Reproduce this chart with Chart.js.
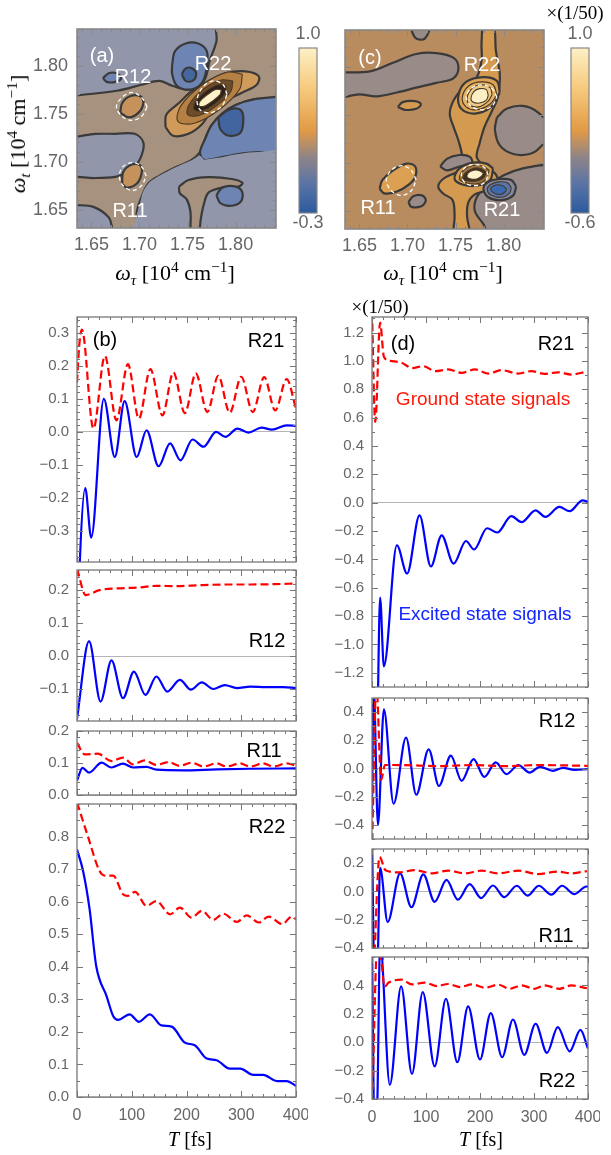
<!DOCTYPE html>
<html>
<head>
<meta charset="utf-8">
<script src="https://cdn.jsdelivr.net/npm/chart.js"></script>
<style>
  html, body { margin: 0; padding: 0; background: #fff; }
  #page { position: relative; width: 611px; height: 1155px; overflow: hidden; font-family: "Liberation Sans", Arial, sans-serif; }
  .box { position: absolute; z-index: 1; }
  .t { position: absolute; z-index: 2; transform: translate(-50%, -50%); white-space: nowrap; line-height: 1; }
  .w { color: #fff; font-size: 20px; }
  .k { color: #000; font-size: 20px; }
  .g { color: #666; font-size: 18px; }
  .s { font-family: "Liberation Serif", "DejaVu Serif", serif; color: #000; font-size: 19px; }
  .s sub, .s sup { font-size: 70%; line-height: 0; }
  .om { font-size: 22px; }
</style>
</head>
<body>
<div id="page">
  <div class="t w" style="left:102px;top:55px">(a)</div>
  <div class="t w" style="left:133px;top:76px">R12</div>
  <div class="t w" style="left:213px;top:63px">R22</div>
  <div class="t w" style="left:130px;top:210px">R11</div>
  <div class="t w" style="left:370px;top:57px">(c)</div>
  <div class="t w" style="left:482px;top:64px">R22</div>
  <div class="t w" style="left:378px;top:207px">R11</div>
  <div class="t w" style="left:502px;top:209px">R21</div>

  <div class="t g" style="left:308px;top:33px">1.0</div>
  <div class="t g" style="left:308px;top:222px">-0.3</div>
  <div class="t g" style="left:580px;top:33px">1.0</div>
  <div class="t g" style="left:580px;top:222px">-0.6</div>
  <div class="t s" style="left:575px;top:12px">×(1/50)</div>

  <div class="t s om" style="left:175px;top:273px"><i>ω</i><sub><i>τ</i></sub> [10<sup>4</sup> cm<sup>−1</sup>]</div>
  <div class="t s om" style="left:443px;top:273px"><i>ω</i><sub><i>τ</i></sub> [10<sup>4</sup> cm<sup>−1</sup>]</div>
  <div class="t s om" style="left:18px;top:134px;transform:translate(-50%,-50%) rotate(-90deg)"><i>ω</i><sub><i>t</i></sub> [10<sup>4</sup> cm<sup>−1</sup>]</div>

  <div class="t s" style="left:380px;top:306px">×(1/50)</div>
  <div class="t k" style="left:105px;top:339px">(b)</div>
  <div class="t k" style="left:266px;top:340px">R21</div>
  <div class="t k" style="left:267px;top:640px">R12</div>
  <div class="t k" style="left:264px;top:750px">R11</div>
  <div class="t k" style="left:267px;top:826px">R22</div>
  <div class="t k" style="left:403px;top:343px">(d)</div>
  <div class="t k" style="left:556px;top:343px">R21</div>
  <div class="t" style="left:483px;top:398px;color:#ff1a0a;font-size:19px">Ground state signals</div>
  <div class="t" style="left:485px;top:613px;color:#1226ff;font-size:19px">Excited state signals</div>
  <div class="t k" style="left:557px;top:720px">R12</div>
  <div class="t k" style="left:556px;top:935px">R11</div>
  <div class="t k" style="left:557px;top:1080px">R22</div>

  <div class="t s" style="left:190px;top:1139px;font-size:20px"><i>T</i> [fs]</div>
  <div class="t s" style="left:481px;top:1139px;font-size:20px"><i>T</i> [fs]</div>
</div>
<script>
// --- 2D maps: axis ranges / ticks ---
const mapXRange = [1.635, 1.842];
const mapYRange = [1.631, 1.838];
const mapTicks = [1.65, 1.70, 1.75, 1.80];

// --- map (a) regions, [omega_tau, omega_t] ---
const aTan = [[1.625,1.768],[1.678,1.774],[1.702,1.780],[1.721,1.784],[1.734,1.779],[1.751,1.775],[1.767,1.784],[1.773,1.805],[1.780,1.825],[1.782,1.845],[1.850,1.845],[1.850,1.768],[1.820,1.765],[1.800,1.759],[1.786,1.750],[1.775,1.738],[1.768,1.723],[1.763,1.710],[1.753,1.701],[1.737,1.694],[1.720,1.685],[1.709,1.677],[1.702,1.663],[1.697,1.646],[1.699,1.625],[1.675,1.625],[1.668,1.642],[1.652,1.653],[1.625,1.658],[1.625,1.682],[1.654,1.683],[1.678,1.685],[1.694,1.694],[1.702,1.706],[1.704,1.720],[1.695,1.729],[1.675,1.729],[1.654,1.729],[1.625,1.728],[1.625,1.768]];
const aBlueTop = [[1.734,1.801],[1.737,1.815],[1.748,1.823],[1.761,1.823],[1.770,1.815],[1.770,1.798],[1.765,1.782],[1.753,1.775],[1.739,1.779],[1.734,1.791],[1.734,1.801]];
const aBlueTopCore = [[1.744,1.791],[1.748,1.797],[1.755,1.797],[1.759,1.791],[1.755,1.784],[1.748,1.784],[1.744,1.791]];
const aBlueLeft = [[1.662,1.787],[1.668,1.792],[1.676,1.792],[1.681,1.787],[1.675,1.783],[1.666,1.783],[1.662,1.787]];
const aBlueRight = [[1.850,1.768],[1.820,1.765],[1.800,1.759],[1.786,1.750],[1.775,1.738],[1.768,1.723],[1.763,1.710],[1.767,1.702],[1.782,1.704],[1.803,1.708],[1.824,1.710],[1.850,1.708],[1.850,1.768]];
const aBlueRightCore = [[1.782,1.746],[1.793,1.754],[1.805,1.754],[1.808,1.744],[1.805,1.730],[1.793,1.727],[1.784,1.734],[1.782,1.746]];
const aGrayLow = [[1.767,1.702],[1.782,1.704],[1.803,1.708],[1.824,1.710],[1.850,1.708],[1.850,1.620],[1.699,1.620],[1.702,1.663],[1.709,1.677],[1.720,1.685],[1.737,1.694],[1.753,1.701],[1.763,1.706],[1.767,1.702]];
const aTanLow = [[1.741,1.674],[1.751,1.681],[1.772,1.684],[1.796,1.682],[1.807,1.678],[1.803,1.674],[1.786,1.673],[1.772,1.668],[1.767,1.656],[1.764,1.642],[1.761,1.625],[1.754,1.625],[1.753,1.648],[1.749,1.661],[1.742,1.667],[1.741,1.674]];
const aBlueLow = [[1.780,1.665],[1.786,1.673],[1.800,1.674],[1.807,1.668],[1.805,1.658],[1.794,1.654],[1.784,1.657],[1.780,1.665]];
const aR12 = [[1.680,1.751],[1.682,1.761],[1.690,1.768],[1.701,1.768],[1.704,1.761],[1.699,1.751],[1.689,1.746],[1.680,1.751]];
const aR11 = [[1.682,1.677],[1.683,1.689],[1.692,1.697],[1.701,1.696],[1.702,1.687],[1.697,1.677],[1.687,1.673],[1.682,1.677]];
const aR22a = [[1.727,1.736],[1.728,1.749],[1.741,1.761],[1.754,1.773],[1.772,1.784],[1.789,1.792],[1.810,1.794],[1.824,1.789],[1.822,1.780],[1.807,1.772],[1.789,1.763],[1.775,1.753],[1.765,1.739],[1.751,1.729],[1.735,1.727],[1.727,1.736]];
const aR22b = [[1.807,1.791],[1.804,1.775],[1.783,1.754],[1.757,1.740],[1.740,1.742],[1.743,1.758],[1.764,1.779],[1.791,1.793],[1.807,1.791]];
const aR22c = [[1.797,1.784],[1.795,1.773],[1.780,1.758],[1.762,1.748],[1.750,1.749],[1.752,1.760],[1.767,1.776],[1.785,1.785],[1.797,1.784]];
const aR22d = [[1.790,1.779],[1.789,1.771],[1.778,1.760],[1.765,1.753],[1.757,1.754],[1.758,1.762],[1.769,1.773],[1.782,1.780],[1.790,1.779]];
const aR22e = [[1.785,1.775],[1.784,1.770],[1.776,1.763],[1.768,1.758],[1.762,1.758],[1.763,1.763],[1.771,1.770],[1.779,1.775],[1.785,1.775]];
const aRing12 = [[1.708,1.757],[1.702,1.767],[1.692,1.772],[1.682,1.767],[1.676,1.757],[1.682,1.747],[1.692,1.743],[1.702,1.747],[1.708,1.757]];
const aRing11 = [[1.707,1.685],[1.702,1.695],[1.693,1.699],[1.683,1.695],[1.679,1.685],[1.683,1.675],[1.693,1.670],[1.702,1.675],[1.707,1.685]];
const aRing22 = [[1.791,1.770],[1.787,1.780],[1.777,1.784],[1.767,1.779],[1.760,1.765],[1.763,1.754],[1.774,1.751],[1.786,1.758],[1.791,1.770]];

// --- map (c) regions ---
const cGrayBand = [[1.625,1.794],[1.661,1.795],[1.685,1.804],[1.709,1.813],[1.730,1.814],[1.748,1.809],[1.753,1.799],[1.748,1.788],[1.730,1.783],[1.709,1.778],[1.689,1.773],[1.668,1.769],[1.650,1.771],[1.625,1.769],[1.625,1.794]];
const cGrayTop = [[1.702,1.845],[1.708,1.830],[1.718,1.829],[1.723,1.845],[1.702,1.845]];
const cGrayRight = [[1.793,1.747],[1.803,1.756],[1.820,1.759],[1.836,1.752],[1.850,1.734],[1.838,1.716],[1.827,1.709],[1.810,1.709],[1.796,1.718],[1.791,1.734],[1.793,1.747]];
const cGraySmall = [[1.701,1.659],[1.706,1.665],[1.715,1.666],[1.719,1.661],[1.715,1.655],[1.704,1.654],[1.701,1.659]];
const cGrayLow = [[1.850,1.699],[1.820,1.694],[1.800,1.687],[1.782,1.675],[1.772,1.664],[1.770,1.650],[1.779,1.636],[1.786,1.625],[1.850,1.625],[1.850,1.699]];
const cBand = [[1.778,1.845],[1.789,1.845],[1.792,1.816],[1.796,1.792],[1.794,1.768],[1.787,1.752],[1.780,1.737],[1.775,1.720],[1.772,1.706],[1.779,1.697],[1.791,1.689],[1.794,1.678],[1.782,1.671],[1.770,1.667],[1.763,1.658],[1.762,1.644],[1.764,1.625],[1.749,1.625],[1.749,1.644],[1.747,1.661],[1.737,1.668],[1.732,1.675],[1.737,1.683],[1.749,1.689],[1.756,1.692],[1.757,1.706],[1.753,1.723],[1.748,1.737],[1.744,1.751],[1.748,1.765],[1.758,1.778],[1.772,1.789],[1.777,1.806],[1.777,1.823],[1.778,1.845]];
const cGrayMid = [[1.734,1.696],[1.741,1.704],[1.754,1.708],[1.765,1.706],[1.767,1.699],[1.754,1.696],[1.741,1.692],[1.734,1.696]];
const cBlob = [[1.690,1.758],[1.695,1.763],[1.708,1.764],[1.714,1.761],[1.709,1.756],[1.697,1.755],[1.690,1.758]];
const cR11 = [[1.671,1.673],[1.674,1.682],[1.685,1.692],[1.699,1.699],[1.708,1.696],[1.708,1.685],[1.701,1.677],[1.689,1.670],[1.676,1.668],[1.671,1.673]];
const cR22a = [[1.796,1.773],[1.793,1.785],[1.779,1.789],[1.761,1.784],[1.753,1.770],[1.756,1.756],[1.770,1.751],[1.787,1.758],[1.796,1.773]];
const cR22b = [[1.793,1.771],[1.789,1.781],[1.777,1.784],[1.764,1.780],[1.757,1.768],[1.761,1.758],[1.772,1.755],[1.786,1.761],[1.793,1.771]];
const cR22c = [[1.788,1.771],[1.786,1.778],[1.776,1.781],[1.767,1.777],[1.762,1.767],[1.765,1.760],[1.774,1.758],[1.784,1.764],[1.788,1.771]];
const cR22d = [[1.784,1.770],[1.782,1.776],[1.775,1.777],[1.769,1.774],[1.766,1.767],[1.768,1.763],[1.775,1.762],[1.782,1.765],[1.784,1.770]];
const cR21a = [[1.789,1.694],[1.782,1.699],[1.768,1.700],[1.754,1.694],[1.749,1.683],[1.758,1.677],[1.772,1.676],[1.786,1.682],[1.789,1.694]];
const cR21b = [[1.785,1.692],[1.779,1.696],[1.768,1.697],[1.757,1.691],[1.754,1.683],[1.761,1.679],[1.772,1.678],[1.782,1.683],[1.785,1.692]];
const cR21c = [[1.782,1.690],[1.776,1.694],[1.768,1.694],[1.760,1.689],[1.758,1.683],[1.763,1.681],[1.772,1.681],[1.779,1.684],[1.782,1.690]];
const cR21d = [[1.779,1.689],[1.774,1.692],[1.768,1.692],[1.763,1.689],[1.762,1.685],[1.766,1.683],[1.772,1.683],[1.777,1.686],[1.779,1.689]];
const cNeg1 = [[1.813,1.675],[1.808,1.682],[1.796,1.683],[1.784,1.680],[1.779,1.673],[1.784,1.664],[1.798,1.661],[1.810,1.666],[1.813,1.675]];
const cNeg2 = [[1.808,1.674],[1.804,1.679],[1.795,1.680],[1.786,1.677],[1.783,1.672],[1.787,1.666],[1.798,1.664],[1.806,1.668],[1.808,1.674]];
const cNeg3 = [[1.803,1.673],[1.799,1.676],[1.793,1.677],[1.787,1.674],[1.787,1.671],[1.791,1.668],[1.797,1.667],[1.802,1.670],[1.803,1.673]];
const cRing22 = [[1.793,1.768],[1.788,1.777],[1.777,1.781],[1.766,1.777],[1.761,1.768],[1.766,1.759],[1.777,1.755],[1.788,1.759],[1.793,1.768]];
const cRing21 = [[1.784,1.687],[1.780,1.695],[1.770,1.698],[1.760,1.695],[1.756,1.687],[1.760,1.679],[1.770,1.676],[1.780,1.679],[1.784,1.687]];
const cRing11 = [[1.709,1.682],[1.704,1.692],[1.694,1.697],[1.683,1.692],[1.678,1.682],[1.683,1.671],[1.694,1.666],[1.704,1.671],[1.709,1.682]];

// colour bars
const cbRangeA = [-0.3, 1.0];
const cbRangeC = [-0.6, 1.0];

// --- time traces, [T fs, signal] ---
const timeTicks = [0, 100, 200, 300, 400];

const b21Range = [-0.394, 0.348];
const b21Ticks = [-0.3, -0.2, -0.1, 0, 0.1, 0.2, 0.3];
const b21Ground = [[0,0.15],[4,0.26],[9,0.31],[30,0.01],[51,0.23],[72,0.035],[93,0.205],[113,0.04],[134,0.19],[156,0.05],[176,0.18],[197,0.057],[217,0.177],[238,0.06],[258,0.17],[279,0.058],[300,0.167],[321,0.06],[342,0.166],[362,0.065],[383,0.16],[400,0.07]];
const b21Excited = [[0,-0.7],[5,-0.4],[15,-0.17],[26,-0.32],[49,0.10],[69,-0.076],[87,0.093],[109,-0.076],[127,0.005],[149,-0.104],[170,-0.035],[189,-0.086],[211,-0.023],[231,-0.045],[254,0.0],[271,-0.015],[293,0.01],[313,-0.002],[337,0.013],[356,0.007],[383,0.02],[400,0.018]];

const b12Range = [-0.197, 0.261];
const b12Ticks = [-0.1, 0, 0.1, 0.2];
const b12Ground = [[0,0.265],[16,0.185],[41,0.2],[72,0.205],[115,0.208],[145,0.213],[182,0.212],[224,0.215],[273,0.217],[316,0.217],[359,0.218],[400,0.22]];
const b12Excited = [[0,-0.19],[22,0.045],[43,-0.138],[63,-0.013],[84,-0.128],[104,-0.047],[125,-0.118],[145,-0.062],[165,-0.108],[188,-0.072],[208,-0.102],[228,-0.08],[249,-0.1],[270,-0.088],[292,-0.097],[316,-0.093],[346,-0.094],[377,-0.094],[400,-0.097]];

const b11Range = [0, 0.2];
const b11Ticks = [0, 0.1, 0.2];
const b11Ground = [[0,0.163],[14,0.127],[38,0.129],[63,0.106],[84,0.117],[102,0.096],[124,0.108],[145,0.094],[167,0.103],[188,0.091],[209,0.101],[231,0.089],[255,0.099],[273,0.089],[298,0.099],[316,0.089],[340,0.099],[359,0.089],[383,0.099],[400,0.091]];
const b11Excited = [[0,0.045],[10,0.085],[22,0.07],[45,0.101],[63,0.086],[84,0.098],[102,0.086],[127,0.088],[145,0.079],[194,0.077],[255,0.08],[316,0.082],[400,0.083]];

const b22Range = [0, 0.9];
const b22Ticks = [0, 0.1, 0.2, 0.3, 0.4, 0.5, 0.6, 0.7, 0.8];
const b22Ground = [[0,0.905],[20,0.80],[41,0.695],[51,0.68],[66,0.68],[84,0.623],[93,0.618],[106,0.63],[127,0.587],[145,0.602],[170,0.561],[188,0.582],[209,0.551],[228,0.572],[249,0.544],[267,0.563],[292,0.538],[310,0.558],[332,0.536],[350,0.554],[375,0.531],[392,0.554],[400,0.546]];
const b22Excited = [[0,0.76],[11,0.695],[23,0.577],[35,0.403],[54,0.31],[66,0.249],[75,0.237],[96,0.254],[113,0.231],[133,0.254],[154,0.22],[173,0.216],[197,0.167],[215,0.159],[237,0.118],[255,0.113],[279,0.087],[298,0.087],[322,0.068],[340,0.068],[365,0.049],[383,0.049],[400,0.034]];

const d21Range = [-1.3, 1.31];
const d21Ticks = [-1.2, -1.0, -0.8, -0.6, -0.4, -0.2, 0, 0.2, 0.4, 0.6, 0.8, 1.0, 1.2];
const d21Ground = [[0,1.35],[6,0.57],[15,1.27],[22,1.03],[34,1.0],[55,0.987],[74,0.95],[95,0.963],[117,0.928],[141,0.94],[166,0.916],[191,0.94],[215,0.911],[240,0.935],[271,0.911],[295,0.928],[320,0.909],[344,0.92],[369,0.904],[398,0.925]];
const d21Excited = [[10,-1.6],[15,-0.67],[22,-1.155],[46,-0.30],[65,-0.50],[88,-0.09],[109,-0.45],[129,-0.23],[151,-0.43],[174,-0.27],[189,-0.33],[213,-0.18],[232,-0.21],[258,-0.095],[277,-0.137],[303,-0.054],[321,-0.10],[347,-0.03],[366,-0.06],[390,0.017],[400,0.005]];

const d12Range = [-0.5, 0.5];
const d12Ticks = [-0.4, -0.2, 0, 0.2, 0.4];
const d12Ground = [[0,-0.6],[8,0.6],[17,-0.08],[24,0.025],[62,0.024],[123,0.017],[185,0.024],[246,0.017],[308,0.024],[400,0.019]];
const d12Excited = [[0,-0.29],[3,0.6],[11,-0.40],[22,0.42],[40,-0.25],[63,0.22],[82,-0.186],[105,0.136],[124,-0.124],[146,0.091],[166,-0.088],[188,0.067],[208,-0.06],[229,0.043],[249,-0.04],[271,0.024],[292,-0.029],[311,0.012],[335,-0.017],[354,0.005],[375,-0.01],[400,-0.005]];

const d11Range = [-0.4, 0.3];
const d11Ticks = [-0.4, -0.2, 0, 0.2];
const d11Ground = [[3,-0.6],[14,0.244],[25,0.15],[49,0.135],[80,0.15],[111,0.128],[141,0.147],[172,0.128],[203,0.147],[234,0.128],[271,0.147],[308,0.123],[344,0.14],[369,0.128],[398,0.144]];
const d11Excited = [[0,0.4],[4,-0.5],[10,-0.5],[15,0.167],[29,-0.216],[52,0.128],[73,-0.112],[95,0.121],[116,-0.074],[138,0.081],[159,-0.058],[181,0.051],[202,-0.047],[224,0.042],[245,-0.04],[268,0.04],[288,-0.03],[309,0.04],[332,-0.023],[352,0.04],[375,-0.019],[397,0.035],[400,0.033]];

const d22Range = [-0.4, 0.6];
const d22Ticks = [-0.4, -0.2, 0, 0.2, 0.4];
const d22Ground = [[0,-0.5],[10,0.7],[18,0.55],[23,0.39],[31,0.42],[55,0.44],[74,0.407],[98,0.42],[120,0.395],[141,0.41],[163,0.388],[185,0.407],[209,0.384],[234,0.405],[255,0.376],[277,0.40],[301,0.376],[320,0.40],[347,0.376],[369,0.40],[398,0.38]];
const d22Excited = [[0,0.7],[4,-0.5],[9,-0.5],[15,0.7],[33,-0.30],[54,0.393],[74,-0.224],[94,0.353],[116,-0.17],[137,0.306],[158,-0.141],[178,0.252],[200,-0.122],[220,0.205],[241,-0.106],[261,0.16],[282,-0.089],[303,0.13],[324,-0.075],[344,0.106],[366,-0.064],[386,0.087],[400,-0.045]];

// --- styles ---
const FONT = '"Liberation Sans", Arial, sans-serif';
const TICK_COL = '#666';
const RED = '#ff0000', BLUE = '#0000ff';
const MAIN = ['#3a3a3a', 2.2];
const INNER = ['#4a3826', 1.1];
const NONE = ['rgba(0,0,0,0)', 0];
const RING = ['#ffffff', 1.3, [4, 3]];
const A_BG = '#9196aa';
const cbStops = [[0, '#2b5a9d'], [0.18, '#5b74a6'], [0.34, '#8f8487'], [0.5, '#e39a44'], [0.75, '#f6c97c'], [1, '#fdf0c4']];

Chart.defaults.font.family = FONT;
const page = document.getElementById('page');

// frame + inside tick marks, Mathematica style
const frame = {
  id: 'frame',
  beforeDatasetsDraw(chart, args, o) {
    if (!o.bg) return;
    const { ctx, chartArea: a } = chart;
    ctx.save();
    ctx.fillStyle = o.bg;
    ctx.fillRect(a.left, a.top, a.width, a.height);
    ctx.restore();
  },
  afterDraw(chart, args, o) {
    const { ctx, chartArea: a, scales } = chart;
    ctx.save();
    ctx.strokeStyle = o.color || '#777';
    if (o.major) {
      ctx.lineWidth = 1;
      ctx.beginPath();
      const mark = (sc, v, len) => {
        const p = Math.round(sc.getPixelForValue(v)) + 0.5;
        if (sc.isHorizontal()) {
          ctx.moveTo(p, a.bottom); ctx.lineTo(p, a.bottom - len);
          ctx.moveTo(p, a.top); ctx.lineTo(p, a.top + len);
        } else {
          ctx.moveTo(a.left, p); ctx.lineTo(a.left + len, p);
          ctx.moveTo(a.right, p); ctx.lineTo(a.right - len, p);
        }
      };
      [[scales.x, o.minorX], [scales.y, o.minorY]].forEach(([sc, step]) => {
        if (step) {
          for (let v = Math.ceil(sc.min / step - 1e-6) * step; v <= sc.max + 1e-9; v += step) mark(sc, v, o.minor);
        }
        sc.ticks.forEach(t => mark(sc, t.value, o.major));
      });
      ctx.stroke();
    }
    ctx.lineWidth = o.lw || 1.3;
    ctx.strokeRect(a.left, a.top, a.width, a.height);
    ctx.restore();
  }
};

// div + canvas whose chart area lands on [l, t, w, h]; m = [top, right, bottom, left] margins
function place(l, t, w, h, m) {
  const div = document.createElement('div');
  div.className = 'box';
  div.style.left = (l - m[3]) + 'px';
  div.style.top = (t - m[0]) + 'px';
  div.style.width = (w + m[1] + m[3]) + 'px';
  div.style.height = (h + m[0] + m[2]) + 'px';
  const cv = document.createElement('canvas');
  div.appendChild(cv);
  page.appendChild(div);
  return cv;
}

const fmt1 = v => (v < 0 ? '\u2212' : '') + Math.abs(v).toFixed(1);
const base = { animation: false, responsive: true, maintainAspectRatio: false, events: [] };

function linePanel(box, range, yTicks, minorY, ground, excited, bottom) {
  const ML = 72, MT = 12, MR = 12, MB = bottom ? 32 : 10, XH = bottom ? 26 : 0;
  const cv = place(box[0], box[1], box[2], box[3], [MT, MR, MB, ML]);
  const set = (pts, color, dash) => ({
    data: pts.map(([x, y]) => ({ x, y })),
    borderColor: color, borderWidth: 2.2, borderDash: dash,
    pointRadius: 0, cubicInterpolationMode: 'monotone', fill: false
  });
  new Chart(cv, {
    type: 'line',
    data: { datasets: [set(ground, RED, [8, 4]), set(excited, BLUE, [])] },
    options: {
      ...base,
      layout: { padding: { left: 0, top: MT, right: MR, bottom: MB - XH } },
      plugins: { legend: { display: false }, tooltip: { enabled: false },
        frame: { minorX: 20, minorY, major: 6, minor: 3, color: '#777', lw: 1.3 } },
      scales: {
        x: {
          type: 'linear', min: 0, max: 400,
          afterBuildTicks: s => { s.ticks = timeTicks.map(value => ({ value })); },
          afterFit: s => { s.height = XH; s.paddingLeft = 0; s.paddingRight = 0; },
          grid: { display: false, drawTicks: false }, border: { display: false },
          ticks: { display: bottom, padding: 9, color: TICK_COL, font: { size: 16 }, maxRotation: 0, autoSkip: false }
        },
        y: {
          min: range[0], max: range[1],
          afterBuildTicks: s => { s.ticks = yTicks.map(value => ({ value })); },
          afterFit: s => { s.width = ML; s.paddingTop = 0; s.paddingBottom = 0; },
          grid: { drawTicks: false, color: c => (c.tick && c.tick.value === 0 ? '#b5b5b5' : 'rgba(0,0,0,0)') },
          border: { display: false },
          ticks: { padding: 8, color: TICK_COL, font: { size: 15 }, autoSkip: false, callback: fmt1 }
        }
      }
    },
    plugins: [frame]
  });
}

function mapPanel(box, shapes, bg, showY) {
  const ML = 72, MT = 12, MR = 12, MB = 30, XH = 24;
  const cv = place(box[0], box[1], box[2], box[3], [MT, MR, MB, ML]);
  new Chart(cv, {
    type: 'scatter',
    data: {
      datasets: shapes.map(([pts, fillColor, line], i) => ({
        data: pts.map(([x, y]) => ({ x, y })),
        showLine: true, fill: fillColor ? 'shape' : false,
        backgroundColor: fillColor || 'rgba(0,0,0,0)',
        borderColor: line[0], borderWidth: line[1], borderDash: line[2] || [],
        tension: 0.35, pointRadius: 0, order: -i
      }))
    },
    options: {
      ...base,
      layout: { padding: { left: 0, top: MT, right: MR, bottom: MB - XH } },
      plugins: { legend: { display: false }, tooltip: { enabled: false },
        frame: { bg, minorX: 0.01, minorY: 0.01, major: 6, minor: 3, color: '#888', lw: 1.6 } },
      scales: {
        x: {
          type: 'linear', min: mapXRange[0], max: mapXRange[1],
          afterBuildTicks: s => { s.ticks = mapTicks.map(value => ({ value })); },
          afterFit: s => { s.height = XH; s.paddingLeft = 0; s.paddingRight = 0; },
          grid: { display: false, drawTicks: false }, border: { display: false },
          ticks: { padding: 6, color: TICK_COL, font: { size: 18 }, maxRotation: 0, autoSkip: false, callback: v => v.toFixed(2) }
        },
        y: {
          type: 'linear', min: mapYRange[0], max: mapYRange[1],
          afterBuildTicks: s => { s.ticks = mapTicks.map(value => ({ value })); },
          afterFit: s => { s.width = ML; s.paddingTop = 0; s.paddingBottom = 0; },
          grid: { display: false, drawTicks: false }, border: { display: false },
          ticks: { display: showY, padding: 9, color: TICK_COL, font: { size: 18 }, autoSkip: false, callback: v => v.toFixed(2) }
        }
      }
    },
    plugins: [frame]
  });
}

function colorBar(box, range) {
  const cv = place(box[0], box[1], box[2], box[3], [2, 2, 2, 2]);
  new Chart(cv, {
    type: 'bar',
    data: {
      labels: [''],
      datasets: [{
        data: [range], borderWidth: 0, barPercentage: 1, categoryPercentage: 1,
        backgroundColor: c => {
          const a = c.chart.chartArea;
          if (!a) return '#e39a44';
          const g = c.chart.ctx.createLinearGradient(0, a.bottom, 0, a.top);
          cbStops.forEach(([p, col]) => g.addColorStop(p, col));
          return g;
        }
      }]
    },
    options: {
      ...base,
      layout: { padding: 2 },
      plugins: { legend: { display: false }, tooltip: { enabled: false }, frame: { major: 0, color: '#888', lw: 1.2 } },
      scales: { x: { display: false }, y: { display: false, min: range[0], max: range[1] } }
    },
    plugins: [frame]
  });
}

// map (a)
mapPanel([77, 29, 199, 199], [
  [aTan, '#a6927f', MAIN],
  [aBlueTop, '#6e85b4', MAIN],
  [aBlueTopCore, '#45679f', MAIN],
  [aBlueLeft, '#6e85b4', MAIN],
  [aBlueRight, '#6e85b4', MAIN],
  [aBlueRightCore, '#42649f', MAIN],
  [aGrayLow, A_BG, NONE],
  [aTanLow, '#a6927f', MAIN],
  [aBlueLow, '#6e85b4', MAIN],
  [aR12, '#c4925a', MAIN],
  [aR11, '#c4925a', MAIN],
  [aR22a, '#cf9a5a', MAIN],
  [aR22b, '#b58043', INNER],
  [aR22c, '#6e4c2a', INNER],
  [aR22d, '#2c2219', INNER],
  [aR22e, '#fdf2c8', INNER],
  [aRing12, null, RING],
  [aRing11, null, RING],
  [aRing22, null, RING]
], A_BG, true);

// map (c)
mapPanel([345, 30, 199, 199], [
  [cGrayBand, '#988b88', MAIN],
  [cGrayTop, '#988b88', MAIN],
  [cGrayRight, '#988b88', MAIN],
  [cGraySmall, '#988b88', MAIN],
  [cGrayLow, '#988b88', MAIN],
  [cBand, '#d49a50', MAIN],
  [cGrayMid, '#988b88', MAIN],
  [cBlob, '#d49a50', MAIN],
  [cR11, '#dba052', MAIN],
  [cR22a, '#dca354', MAIN],
  [cR22b, '#e6b466', INNER],
  [cR22c, '#f0c983', INNER],
  [cR22d, '#fcefc4', INNER],
  [cNeg1, '#86889c', MAIN],
  [cNeg2, '#5876ab', INNER],
  [cNeg3, '#3c6ab0', INNER],
  [cR21a, '#d9a052', MAIN],
  [cR21b, '#9c7440', INNER],
  [cR21c, '#3e3020', INNER],
  [cR21d, '#fcf2cc', INNER],
  [cRing22, null, RING],
  [cRing21, null, RING],
  [cRing11, null, RING]
], '#b98c60', false);

colorBar([299, 48, 18, 165], cbRangeA);
colorBar([571, 48, 18, 165], cbRangeC);

// (b) column
linePanel([77, 317, 219, 245], b21Range, b21Ticks, 0.02, b21Ground, b21Excited, false);
linePanel([77, 570, 219, 151], b12Range, b12Ticks, 0.02, b12Ground, b12Excited, false);
linePanel([77, 731, 219, 64], b11Range, b11Ticks, 0.02, b11Ground, b11Excited, false);
linePanel([77, 804, 219, 293], b22Range, b22Ticks, 0.05, b22Ground, b22Excited, true);

// (d) column
linePanel([372, 317, 216, 370], d21Range, d21Ticks, 0.1, d21Ground, d21Excited, false);
linePanel([372, 698, 216, 141], d12Range, d12Ticks, 0.1, d12Ground, d12Excited, false);
linePanel([372, 849, 216, 99], d11Range, d11Ticks, 0.1, d11Ground, d11Excited, false);
linePanel([372, 957, 216, 142], d22Range, d22Ticks, 0.1, d22Ground, d22Excited, true);
</script>
</body>
</html>
